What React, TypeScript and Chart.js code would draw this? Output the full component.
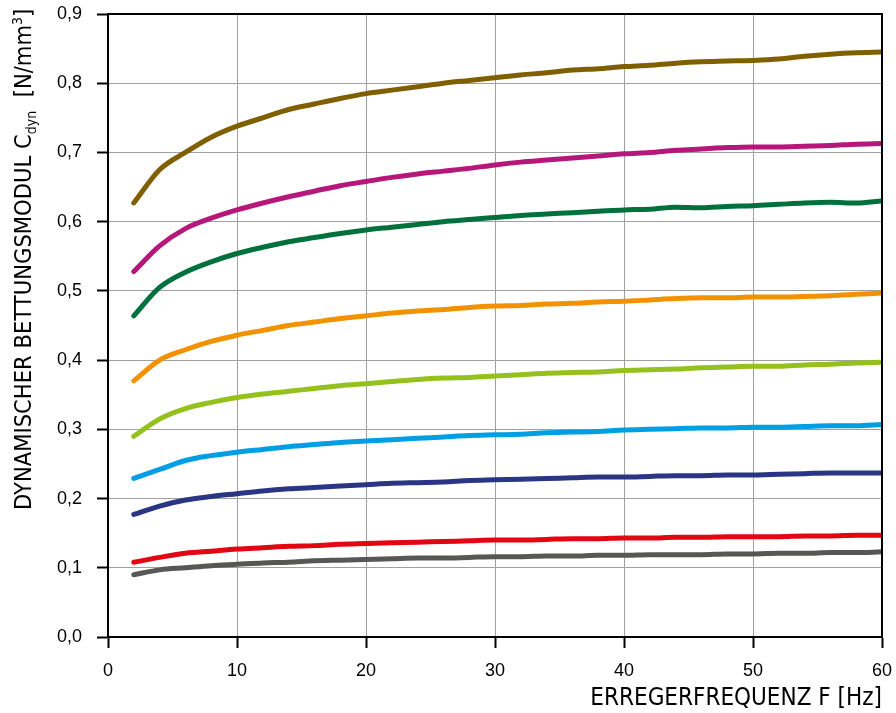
import React, { useEffect, useRef } from "react";
import { Chart, registerables } from "chart.js";

Chart.register(...registerables);

const frequencies = [2, 4, 6, 8, 10, 12, 14, 16, 18, 20, 22, 24, 26, 28, 30, 32, 34, 36, 38, 40, 42, 44, 46, 48, 50, 52, 54, 56, 58, 60];

const brownValues = [0.627, 0.675, 0.700, 0.722, 0.738, 0.750, 0.762, 0.770, 0.778, 0.785, 0.790, 0.795, 0.800, 0.804, 0.808, 0.812, 0.815, 0.819, 0.821, 0.824, 0.826, 0.829, 0.831, 0.832, 0.833, 0.835, 0.839, 0.842, 0.844, 0.845];
const magentaValues = [0.528, 0.565, 0.590, 0.605, 0.617, 0.627, 0.636, 0.644, 0.652, 0.658, 0.664, 0.669, 0.673, 0.677, 0.682, 0.686, 0.689, 0.692, 0.695, 0.698, 0.700, 0.703, 0.705, 0.707, 0.708, 0.708, 0.709, 0.710, 0.712, 0.713];
const greenValues = [0.464, 0.505, 0.527, 0.542, 0.554, 0.563, 0.571, 0.577, 0.583, 0.588, 0.592, 0.596, 0.600, 0.603, 0.606, 0.609, 0.611, 0.613, 0.615, 0.617, 0.618, 0.621, 0.620, 0.622, 0.623, 0.625, 0.627, 0.628, 0.627, 0.630];
const orangeValues = [0.370, 0.400, 0.415, 0.427, 0.436, 0.443, 0.450, 0.455, 0.460, 0.464, 0.468, 0.471, 0.473, 0.476, 0.478, 0.479, 0.481, 0.482, 0.484, 0.485, 0.487, 0.489, 0.490, 0.490, 0.491, 0.491, 0.492, 0.493, 0.495, 0.497];
const limeValues = [0.290, 0.315, 0.330, 0.339, 0.346, 0.351, 0.355, 0.359, 0.363, 0.366, 0.369, 0.372, 0.374, 0.375, 0.377, 0.379, 0.381, 0.382, 0.383, 0.385, 0.386, 0.387, 0.389, 0.390, 0.391, 0.391, 0.393, 0.394, 0.396, 0.397];
const cyanValues = [0.229, 0.242, 0.255, 0.262, 0.267, 0.271, 0.275, 0.278, 0.281, 0.283, 0.285, 0.287, 0.289, 0.291, 0.292, 0.293, 0.295, 0.296, 0.297, 0.299, 0.300, 0.301, 0.302, 0.302, 0.303, 0.303, 0.304, 0.305, 0.305, 0.307];
const navyValues = [0.177, 0.189, 0.198, 0.203, 0.207, 0.211, 0.214, 0.216, 0.218, 0.220, 0.222, 0.223, 0.224, 0.226, 0.227, 0.228, 0.229, 0.230, 0.231, 0.231, 0.232, 0.233, 0.233, 0.234, 0.234, 0.235, 0.236, 0.237, 0.237, 0.237];
const redValues = [0.108, 0.115, 0.121, 0.124, 0.127, 0.129, 0.131, 0.132, 0.134, 0.135, 0.136, 0.137, 0.138, 0.139, 0.140, 0.140, 0.141, 0.142, 0.142, 0.143, 0.143, 0.144, 0.144, 0.145, 0.145, 0.145, 0.146, 0.146, 0.147, 0.147];
const grayValues = [0.090, 0.097, 0.100, 0.103, 0.105, 0.107, 0.108, 0.110, 0.111, 0.112, 0.113, 0.114, 0.114, 0.115, 0.116, 0.116, 0.117, 0.117, 0.118, 0.118, 0.119, 0.119, 0.119, 0.120, 0.120, 0.121, 0.121, 0.122, 0.122, 0.123];

const seriesValues = [brownValues, magentaValues, greenValues, orangeValues, limeValues, cyanValues, navyValues, redValues, grayValues];
const seriesColors = ["#7f5f00", "#b5177a", "#00703c", "#f39200", "#95c11f", "#009fe3", "#2a3583", "#e30613", "#575756"];

const xTitle = "ERREGERFREQUENZ F [Hz]";
const yTitleMain = "DYNAMISCHER BETTUNGSMODUL C";
const yTitleSub = "dyn";
const yTitleUnit = "  [N/mm";
const yTitleSup = "3";
const yTitleEnd = "]";

const condensed = "'Liberation Sans Narrow', 'DejaVu Sans Condensed', 'Roboto Condensed', sans-serif";
const tickFont = "'Liberation Sans', Arial, sans-serif";

const framePlugin = {
  id: "frame",
  afterDraw(chart: any) {
    const { ctx, chartArea } = chart;
    ctx.save();
    ctx.strokeStyle = "#000";
    ctx.lineWidth = 2;
    ctx.strokeRect(chartArea.left, chartArea.top, chartArea.right - chartArea.left, chartArea.bottom - chartArea.top);
    ctx.restore();

    // y title with subscript / superscript
    ctx.save();
    ctx.translate(0, 510);
    ctx.rotate(-Math.PI / 2);
    ctx.fillStyle = "#000";
    ctx.textBaseline = "alphabetic";
    ctx.textAlign = "left";
    let x = 0;
    const base = 31;
    ctx.font = `23.5px ${condensed}`;
    ctx.fillText(yTitleMain, x, base);
    x += ctx.measureText(yTitleMain).width;
    ctx.font = `14px ${condensed}`;
    ctx.fillText(yTitleSub, x, base + 5);
    x += ctx.measureText(yTitleSub).width;
    ctx.font = `23.5px ${condensed}`;
    ctx.fillText(yTitleUnit, x, base);
    x += ctx.measureText(yTitleUnit).width;
    ctx.font = `14px ${condensed}`;
    ctx.fillText(yTitleSup, x, base - 9);
    x += ctx.measureText(yTitleSup).width;
    ctx.font = `23.5px ${condensed}`;
    ctx.fillText(yTitleEnd, x, base);
    ctx.restore();
  },
};

export default function App() {
  const ref = useRef<HTMLCanvasElement | null>(null);

  useEffect(() => {
    if (!ref.current) return;
    const chart = new Chart(ref.current, {
      type: "line",
      data: {
        datasets: seriesValues.map((vals, i) => ({
          data: frequencies.map((f, j) => ({ x: f, y: vals[j] })),
          borderColor: seriesColors[i],
          backgroundColor: seriesColors[i],
          borderWidth: 5,
          borderCapStyle: "round",
          borderJoinStyle: "round",
          pointRadius: 0,
          cubicInterpolationMode: "monotone",
          fill: false,
        })) as any,
      },
      options: {
        animation: false,
        responsive: false,
        maintainAspectRatio: false,
        layout: { padding: { top: 14, right: 14, left: 0, bottom: 0 } },
        plugins: {
          legend: { display: false },
          tooltip: { enabled: false },
        },
        scales: {
          x: {
            type: "linear",
            min: 0,
            max: 60,
            border: { display: true, color: "#000", width: 2 },
            grid: { color: "#a0a0a0", lineWidth: 1, tickColor: "#000", tickWidth: 2, tickLength: 11 },
            ticks: {
              stepSize: 10,
              color: "#000",
              padding: 12,
              font: { family: tickFont, size: 18 },
              maxRotation: 0,
            },
            title: {
              display: true,
              text: xTitle,
              align: "end",
              color: "#000",
              font: { family: condensed, size: 24 },
              padding: { top: 2, bottom: 0 },
            },
            afterFit(scale: any) {
              scale.height = 76;
              scale.paddingLeft = 0;
              scale.paddingRight = 0;
            },
          },
          y: {
            type: "linear",
            min: 0,
            max: 0.9,
            border: { display: true, color: "#000", width: 2 },
            grid: { color: "#a0a0a0", lineWidth: 1, tickColor: "#000", tickWidth: 2, tickLength: 11 },
            ticks: {
              stepSize: 0.1,
              color: "#000",
              padding: 15,
              font: { family: tickFont, size: 18 },
              callback: (v: any) => Number(v).toFixed(1).replace(".", ","),
            },
            afterFit(scale: any) {
              scale.width = 108;
              scale.paddingTop = 0;
              scale.paddingBottom = 0;
            },
          },
        },
      },
      plugins: [framePlugin],
    });
    return () => chart.destroy();
  }, []);

  return (
    <div style={{ position: "fixed", top: 0, left: 0, width: 896, height: 713 }}>
      <canvas ref={ref} width={896} height={713} style={{ width: 896, height: 713, display: "block" }} />
    </div>
  );
}
